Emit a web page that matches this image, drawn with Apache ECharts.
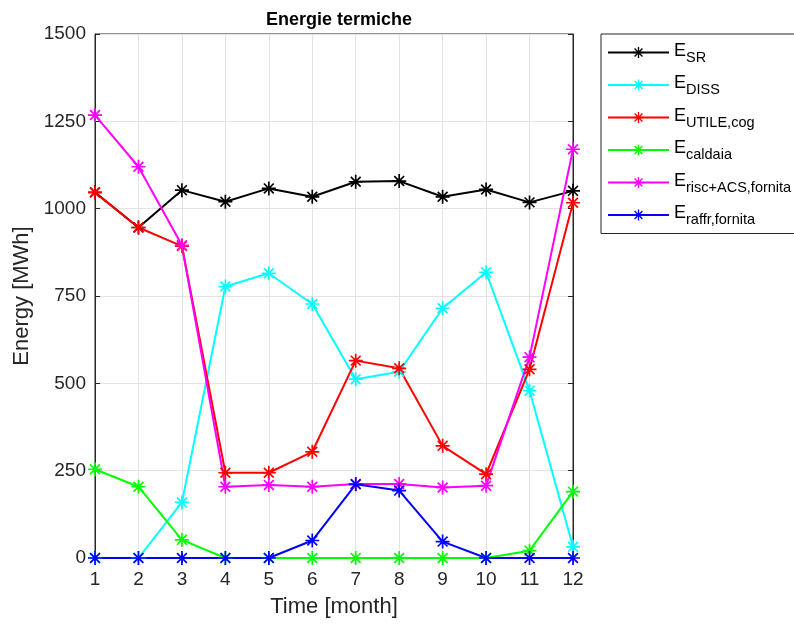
<!DOCTYPE html>
<html>
<head>
<meta charset="utf-8">
<script src="https://cdn.jsdelivr.net/npm/echarts@6/dist/echarts.min.js"></script>
<style>
  html, body { margin: 0; padding: 0; background: #fff; }
  #chart { width: 794px; height: 624px; }
</style>
</head>
<body>
<div id="chart"></div>
<script>
// dati
var months = ["1", "2", "3", "4", "5", "6", "7", "8", "9", "10", "11", "12"];
var yTicks = [0, 250, 500, 750, 1000, 1250, 1500];

var eSR = [1047, 946, 1053, 1020, 1058, 1034, 1077, 1079, 1034, 1055, 1018, 1051];
var eDISS = [0, 0, 159, 777, 815, 727, 512, 533, 715, 818, 479, 32];
var eUtile = [1046, 946, 893, 244, 244, 304, 565, 543, 321, 240, 540, 1017];
var eCaldaia = [254, 204, 52, 0, 0, 0, 0, 0, 0, 0, 21, 190];
var eRisc = [1268, 1120, 895, 204, 209, 204, 212, 212, 202, 207, 575, 1170];
var eRaffr = [0, 0, 0, 0, 0, 50, 211, 193, 47, 0, 0, 0];

var seriesNames = ["E_SR", "E_DISS", "E_UTILE,cog", "E_caldaia", "E_risc+ACS,fornita", "E_raffr,fornita"];
var seriesColors = ["#000000", "#00ffff", "#ff0000", "#00ff00", "#ff00ff", "#0000ff"];
var seriesData = [eSR, eDISS, eUtile, eCaldaia, eRisc, eRaffr];

// asterisco tipo matlab
var star = "path://M0 8.8L20 8.8L20 11.2L0 11.2Z" +
  "M8.8 0L11.2 0L11.2 20L8.8 20Z" +
  "M3.85 2.15L17.85 16.15L16.15 17.85L2.15 3.85Z" +
  "M17.85 3.85L3.85 17.85L2.15 16.15L16.15 2.15Z";

var font = "Liberation Sans";
var axisCol = "#262626";

var series = seriesNames.map(function (n, i) {
  return {
    name: n,
    type: "line",
    data: seriesData[i],
    symbol: star,
    symbolSize: 14,
    showAllSymbol: true,
    itemStyle: { color: seriesColors[i] },
    lineStyle: { color: seriesColors[i], width: 2 },
    animation: false
  };
});

var chart = echarts.init(document.getElementById("chart"));
chart.setOption({
  backgroundColor: "#fff",
  title: {
    text: "Energie termiche",
    left: 334,
    top: 6,
    textAlign: "center",
    textStyle: { fontFamily: font, fontSize: 18, fontWeight: "bold", color: "#000" }
  },
  grid: {
    left: 95, right: 221, top: 34, bottom: 66,
    show: true, borderColor: axisCol, borderWidth: 1, backgroundColor: "#fff"
  },
  legend: {
    orient: "vertical",
    left: 601,
    top: 34,
    padding: [6, 6, 6, 6],
    itemGap: 7.5,
    itemWidth: 61,
    itemHeight: 14,
    borderColor: axisCol,
    borderWidth: 1,
    borderRadius: 0,
    data: seriesNames,
    formatter: function (name) {
      var p = name.split("_");
      return "{e|" + p[0] + "}{s|" + p[1] + "}";
    },
    textStyle: {
      fontFamily: font,
      color: "#000",
      rich: {
        e: { fontFamily: font, fontSize: 18, color: "#000", lineHeight: 21, verticalAlign: "top" },
        s: { fontFamily: font, fontSize: 14.5, color: "#000", lineHeight: 21, padding: [10, 0, 0, 0] }
      }
    }
  },
  xAxis: [{
    type: "category",
    data: months,
    boundaryGap: false,
    name: "Time [month]",
    nameLocation: "middle",
    nameGap: 38,
    nameTextStyle: { fontFamily: font, fontSize: 22, color: axisCol },
    axisLine: { lineStyle: { color: axisCol } },
    axisTick: { inside: true, alignWithLabel: true, length: 5, lineStyle: { color: axisCol } },
    axisLabel: { fontFamily: font, fontSize: 19, color: axisCol, margin: 12 },
    splitLine: { show: true, lineStyle: { color: "#e3e3e3" } }
  }, {
    type: "category",
    data: months,
    boundaryGap: false,
    position: "top",
    axisLine: { lineStyle: { color: axisCol } },
    axisTick: { inside: true, length: 5, lineStyle: { color: axisCol } },
    axisLabel: { show: false }
  }],
  yAxis: [{
    type: "value",
    min: yTicks[0],
    max: yTicks[yTicks.length - 1],
    interval: 250,
    name: "Energy [MWh]",
    nameLocation: "middle",
    nameGap: 56,
    nameTextStyle: { fontFamily: font, fontSize: 22, color: axisCol },
    axisLine: { show: true, lineStyle: { color: axisCol } },
    axisTick: { show: true, inside: true, length: 5, lineStyle: { color: axisCol } },
    axisLabel: {
      fontFamily: font, fontSize: 19, color: axisCol, margin: 9,
      formatter: function (v) { return String(v); }
    },
    splitLine: { show: true, lineStyle: { color: "#e3e3e3" } }
  }, {
    type: "value",
    min: yTicks[0],
    max: yTicks[yTicks.length - 1],
    interval: 250,
    position: "right",
    axisLine: { show: true, lineStyle: { color: axisCol } },
    axisTick: { show: true, inside: true, length: 5, lineStyle: { color: axisCol } },
    axisLabel: { show: false },
    splitLine: { show: false }
  }],
  series: series
});
</script>
</body>
</html>
